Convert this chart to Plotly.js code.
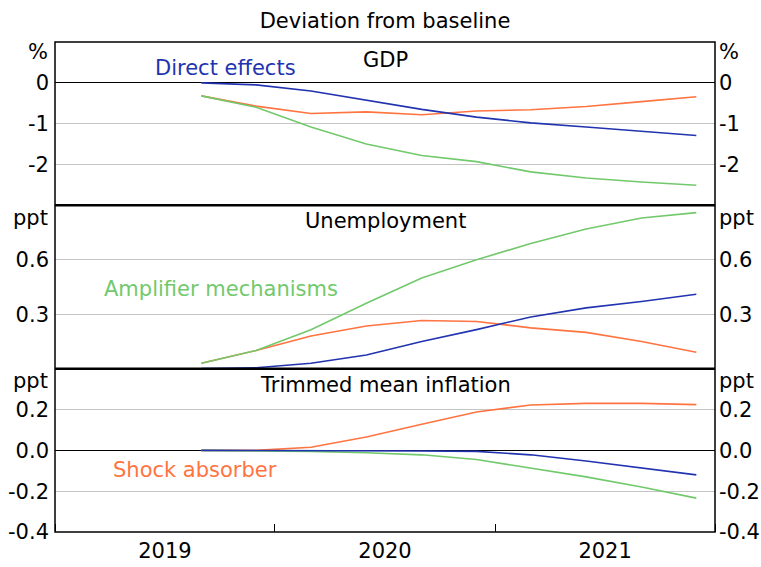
<!DOCTYPE html>
<html>
<head>
<meta charset="utf-8">
<script src="https://cdn.plot.ly/plotly-3.0.1.min.js"></script>
<style>
  html, body { margin: 0; padding: 0; background: #fff; }
  #plot { width: 761px; height: 567px; }
</style>
</head>
<body>
<div id="plot"></div>
<script>
// Quarterly observations
var quarters = ['2019-09-01', '2019-12-01', '2020-03-01', '2020-06-01', '2020-09-01',
                '2020-12-01', '2021-03-01', '2021-06-01', '2021-09-01', '2021-12-01'];

// GDP, % deviation from baseline
var gdpDirect    = [0, -0.05, -0.2, -0.42, -0.65, -0.84, -0.98, -1.08, -1.18, -1.29];
var gdpAmplifier = [-0.32, -0.6, -1.08, -1.5, -1.78, -1.93, -2.18, -2.33, -2.43, -2.51];
var gdpShock     = [-0.32, -0.57, -0.75, -0.71, -0.78, -0.69, -0.66, -0.58, -0.46, -0.34];

// Unemployment rate, ppt deviation
var urDirect    = [0, 0.005, 0.03, 0.075, 0.15, 0.215, 0.285, 0.335, 0.37, 0.41];
var urAmplifier = [0.03, 0.1, 0.215, 0.36, 0.5, 0.6, 0.69, 0.77, 0.83, 0.86];
var urShock     = [0.03, 0.1, 0.18, 0.235, 0.265, 0.26, 0.225, 0.2, 0.15, 0.09];

// Trimmed mean inflation, ppt deviation
var infDirect    = [0, 0, 0, -0.002, -0.003, -0.005, -0.022, -0.052, -0.086, -0.12];
var infAmplifier = [0, -0.002, -0.005, -0.012, -0.022, -0.045, -0.086, -0.13, -0.18, -0.234];
var infShock     = [0, 0, 0.015, 0.065, 0.128, 0.188, 0.222, 0.23, 0.23, 0.224];

var gdpTicks = [-2, -1, 0];
var gdpTickText = ['-2', '-1', '0'];
var urTicks = [0.3, 0.6];
var urTickText = ['0.3', '0.6'];
var infTicks = [-0.4, -0.2, 0, 0.2];
var infTickText = ['-0.4', '-0.2', '0.0', '0.2'];

var BLUE = '#2233b0';
var GREEN = '#72c96c';
var ORANGE = '#ff7440';
var FONT = 'DejaVu Sans, Arial, sans-serif';
var SIZE = 21;

function line(y, color, yaxis) {
    return { x: quarters, y: y, yaxis: yaxis, type: 'scatter', mode: 'lines',
             line: { color: color, width: 1.6 }, hoverinfo: 'skip', showlegend: false };
}

function blank(yaxis) {
    return { x: [], y: [], yaxis: yaxis, type: 'scatter', mode: 'lines',
             hoverinfo: 'skip', showlegend: false };
}

var traces = [
    line(gdpShock, ORANGE, 'y'), line(gdpAmplifier, GREEN, 'y'), line(gdpDirect, BLUE, 'y'),
    line(urShock, ORANGE, 'y2'), line(urAmplifier, GREEN, 'y2'), line(urDirect, BLUE, 'y2'),
    line(infShock, ORANGE, 'y3'), line(infAmplifier, GREEN, 'y3'), line(infDirect, BLUE, 'y3'),
    blank('y4'), blank('y5'), blank('y6')
];

function yAxis(domain, range, vals, text, zero) {
    return {
        domain: domain, range: range, anchor: 'x',
        tickvals: vals, ticktext: text, ticks: '', ticklabelstandoff: 5,
        showgrid: true, gridcolor: '#c4c4c4', gridwidth: 1,
        zeroline: zero, zerolinecolor: '#000', zerolinewidth: 1,
        showline: false, fixedrange: true
    };
}

function rightAxis(over, range, vals, text) {
    return {
        overlaying: over, side: 'right', anchor: 'x', range: range,
        tickvals: vals, ticktext: text, ticks: '', ticklabelstandoff: 3,
        showgrid: false, zeroline: false, showline: false, fixedrange: true
    };
}

function note(text, x, y, color, anchor) {
    return { text: text, x: x, y: y, xref: 'paper', yref: 'paper', showarrow: false,
             xanchor: anchor || 'center', yanchor: 'middle',
             font: { family: FONT, size: SIZE, color: color || '#000' } };
}

var layout = {
    width: 761, height: 567,
    margin: { l: 55, r: 46, t: 42, b: 35 },
    paper_bgcolor: '#fff', plot_bgcolor: '#fff',
    font: { family: FONT, size: SIZE, color: '#000' },
    title: { text: 'Deviation from baseline', x: 0.5, xref: 'paper', y: 0.964, yanchor: 'middle',
             font: { family: FONT, size: SIZE, color: '#000' } },
    xaxis: {
        type: 'date', anchor: 'y3', range: ['2019-01-01', '2022-01-01'],
        tick0: '2019-01-01', dtick: 'M12', tickformat: '%Y', ticklabelmode: 'period',
        ticks: 'inside', ticklen: 8, tickcolor: '#000', tickwidth: 1, ticklabelstandoff: 4,
        showgrid: false, zeroline: false, showline: false, fixedrange: true
    },
    yaxis:  yAxis([2 / 3, 1], [-3, 1], gdpTicks, gdpTickText, true),
    yaxis2: yAxis([1 / 3, 2 / 3], [0, 0.9], urTicks, urTickText, false),
    yaxis3: yAxis([0, 1 / 3], [-0.4, 0.4], infTicks, infTickText, true),
    yaxis4: rightAxis('y', [-3, 1], gdpTicks, gdpTickText),
    yaxis5: rightAxis('y2', [0, 0.9], urTicks, urTickText),
    yaxis6: rightAxis('y3', [-0.4, 0.4], infTicks, infTickText),
    shapes: [
        { type: 'rect', xref: 'paper', yref: 'paper', x0: 0, x1: 1, y0: 0, y1: 1,
          line: { color: '#000', width: 1.5 } },
        { type: 'line', xref: 'paper', yref: 'paper', x0: 0, x1: 1, y0: 2 / 3, y1: 2 / 3,
          line: { color: '#000', width: 2.5 } },
        { type: 'line', xref: 'paper', yref: 'paper', x0: 0, x1: 1, y0: 1 / 3, y1: 1 / 3,
          line: { color: '#000', width: 2.5 } }
    ],
    annotations: [
        note('GDP', 0.5, 0.964),
        note('Unemployment', 0.5, 0.635),
        note('Trimmed mean inflation', 0.5, 0.3),
        note('%', -0.008, 0.98, '#000', 'right'),
        note('%', 1.003, 0.98, '#000', 'left'),
        note('ppt', -0.008, 0.641, '#000', 'right'),
        note('ppt', 1.003, 0.641, '#000', 'left'),
        note('ppt', -0.008, 0.308, '#000', 'right'),
        note('ppt', 1.003, 0.308, '#000', 'left'),
        note('Direct effects', 0.259, 0.947, BLUE),
        note('Amplifier mechanisms', 0.252, 0.496, GREEN),
        note('Shock absorber', 0.212, 0.127, ORANGE)
    ]
};

Plotly.newPlot('plot', traces, layout, { displayModeBar: false, staticPlot: true });
</script>
</body>
</html>
